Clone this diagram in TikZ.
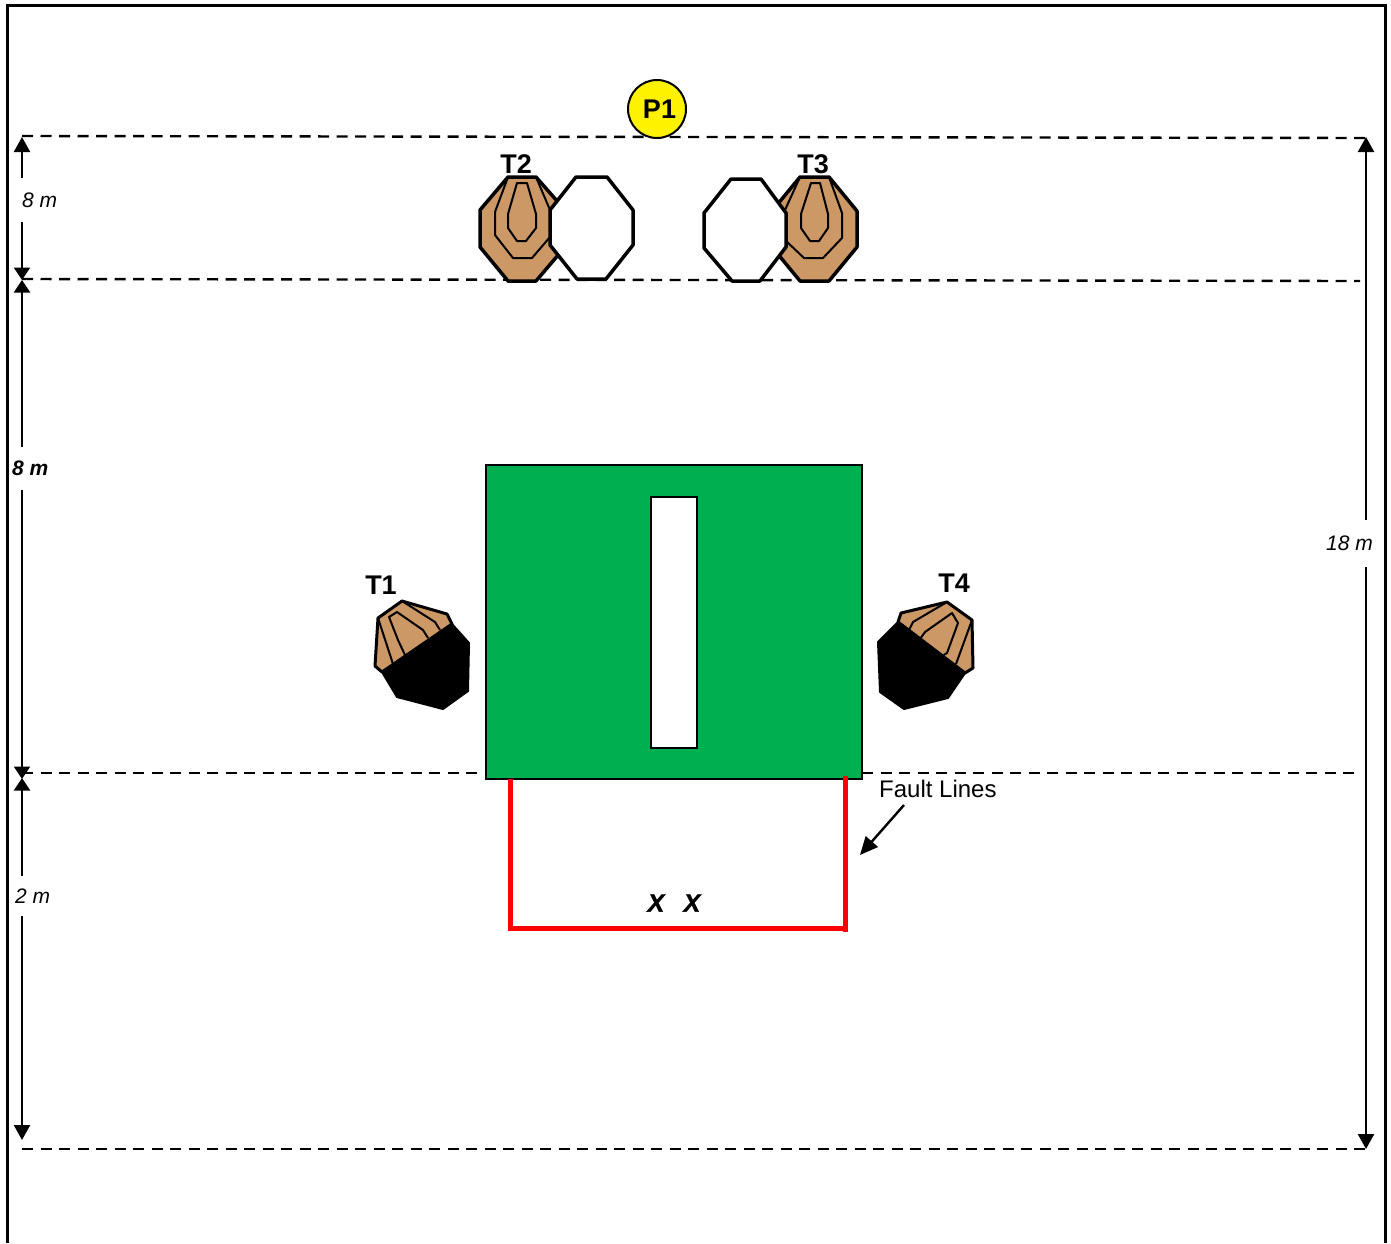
\documentclass[tikz,border=0pt]{standalone}
\usepackage{fontspec}
\setmainfont{Liberation Sans}
\usetikzlibrary{arrows.meta}
\definecolor{tan1}{HTML}{CC9966}
\definecolor{grn}{HTML}{00B050}
\definecolor{redl}{HTML}{FF0000}
\tikzset{
  guide/.style={line width=2.4pt,dash pattern=on 11pt off 7.5pt},
  dim/.style={line width=2.3pt,-{Triangle[length=15pt,width=16pt]}},
  dimj/.style={line width=2.3pt,-{Triangle[length=12.5pt,width=16pt]}},
  tgt/.style={draw=black,line width=3.5pt,line join=round},
  thin1/.style={draw=black,line width=2pt,line join=round},
  lbl/.style={font=\fontsize{27}{30}\selectfont\bfseries,inner sep=0pt},
  dimlbl/.style={font=\fontsize{21}{24}\selectfont\itshape,inner sep=0pt,anchor=west},
  marklbl/.style={font=\fontsize{25}{28}\selectfont\bfseries\itshape\addfontfeature{FakeBold=1.2},inner sep=0pt},
  fault/.style={line width=5pt,draw=redl}
}
\begin{document}
\begin{tikzpicture}[x=1pt,y=-1pt]
\useasboundingbox (0,0) rectangle (1391,1243);
\fill[white] (0,0) rectangle (1391,1243);
% frame
\draw[line width=3pt] (7,1243) -- (7,5) -- (1385,5) -- (1385,1243);
% guides
\coordinate (g1l) at (22,136); \coordinate (g1r) at (1366,138);
\coordinate (g2l) at (22,279); \coordinate (g2r) at (1360,281);
\coordinate (g3l) at (22,773); \coordinate (g3m) at (486,773);
\coordinate (g3n) at (862,773); \coordinate (g3r) at (1360,773);
\coordinate (g4l) at (22,1149); \coordinate (g4r) at (1366,1149);
\draw[guide] (g1l) -- (g1r);
\draw[guide] (g2l) -- (g2r);
\draw[guide] (g3l) -- (g3m);
\draw[guide] (g3n) -- (g3r);
\draw[guide] (g4l) -- (g4r);
% P1
\node[circle,draw=black,line width=2pt,fill=yellow,minimum size=58pt,inner sep=0pt,font=\fontsize{27}{30}\selectfont\bfseries] (p1) at (657,109) {\hspace*{5pt}P1};
% T2 target
\filldraw[tgt,fill=tan1] (508,177)--(536,177)--(565,210)--(565,247)--(536,281)--(508,281)--(480,247)--(480,210)--cycle;
\draw[thin1] (508,177)--(495,212)--(495,235)--(513,258)--(532,258)--(550,237);
\draw[thin1] (536,177)--(550,210);
\draw[thin1] (517,183)--(527,183)--(536,214)--(536,228)--(526,241)--(517,241)--(508,228)--(508,214)--cycle;
\filldraw[tgt,fill=white] (576,177)--(607,177)--(633,210)--(633,245)--(606,279)--(577,279)--(550,245)--(550,210)--cycle;
\node[lbl] (t2) at (516,164) {T2};
% T3 target
\filldraw[tgt,fill=tan1] (800,177)--(829,177)--(857,211)--(857,247)--(829,281)--(800,281)--(772,247)--(772,211)--cycle;
\draw[thin1] (800,177)--(785,210)--(785,240)--(804,258)--(823,258)--(842,238)--(842,213)--(829,177);
\draw[thin1] (811,183)--(820,183)--(828,214)--(828,228)--(819,241)--(810,241)--(801,228)--(801,214)--cycle;
\filldraw[tgt,fill=white] (731,179)--(761,179)--(786,213)--(786,247)--(760,281)--(732,281)--(704,248)--(704,213)--cycle;
\node[lbl] (t3) at (813,164) {T3};
% green wall
\node[draw=black,line width=2pt,fill=grn,minimum width=376pt,minimum height=314pt,inner sep=0pt] (wall) at (674,622) {};
\node[draw=black,line width=1.5pt,fill=white,minimum width=46pt,minimum height=251pt,inner sep=0pt] (gap) at (674,622.5) {};
% T1
\filldraw[tgt,line width=3pt,fill=tan1] (402,601)--(447,614)--(452,624)--(382,672)--(375,666)--(378,618)--cycle;
\draw[thin1] (378,618)--(393,664);
\draw[thin1] (402,601)--(435,622)--(440,630);
\draw[thin1] (405,655)--(398,640)--(389,617)--(397,612)--(423,630)--(428,638);
\filldraw[thin1,fill=black] (452,624)--(469,643)--(468,691)--(443,709)--(397,697)--(382,672)--cycle;
\node[lbl] (t1) at (381,585) {T1};
% T4
\filldraw[tgt,line width=3pt,fill=tan1] (947,602)--(972,620)--(973,668)--(965,673)--(898,622)--(901,613)--cycle;
\draw[thin1] (947,602)--(913,622)--(909,630);
\draw[thin1] (920,639)--(925,632)--(952,613)--(958,623)--(947,653)--(942,656);
\draw[thin1] (972,620)--(956,664);
\filldraw[thin1,fill=black] (898,622)--(965,673)--(948,698)--(904,709)--(880,692)--(878,642)--cycle;
\node[lbl] (t4) at (954,583) {T4};
% fault lines
\coordinate (f1) at (510.5,779); \coordinate (f2) at (510.5,928);
\coordinate (f3) at (845.5,928); \coordinate (f4) at (845.5,776); \coordinate (f5) at (845.5,932);
\draw[fault] (f1) -- (f2) -- (f3);
\draw[fault] (f4) -- (f5);
\node[marklbl] (x1) at (656,903) {X};
\node[marklbl] (x2) at (692,903) {X};
\node[font=\fontsize{24}{28}\selectfont,inner sep=0pt,anchor=west] (fl) at (879,789) {Fault Lines};
\coordinate (ftail) at (904,805); \coordinate (fhead) at (860,855);
\draw[line width=2.4pt,-{Triangle[length=18pt,width=16pt]}] (ftail) -- (fhead);
% dimension labels
\node[dimlbl,minimum height=44pt] (d8a) at (22,200) {8 m};
\node[dimlbl,minimum height=43pt,font=\fontsize{21}{24}\selectfont\bfseries\itshape] (d8b) at (12,468.5) {8 m};
\node[dimlbl,minimum height=40pt] (d2) at (15,896) {2 m};
\node[dimlbl,minimum height=47pt] (d18) at (1326,543.5) {18 m};
% dimension arrows
\coordinate (a1) at (22,137); \coordinate (a2) at (22,280);
\coordinate (b1) at (22,280); \coordinate (b2) at (22,779);
\coordinate (c1) at (22,778); \coordinate (c2) at (22,1140);
\coordinate (e1) at (1366,137); \coordinate (e2) at (1366,1149);
\draw[dim] (a1|-d8a.north) -- (a1);
\draw[dimj] (a1|-d8a.south) -- (a2);
\draw[dimj] (b1|-d8b.north) -- (b1);
\draw[dimj] (b1|-d8b.south) -- (b2);
\draw[dimj] (c1|-d2.north) -- (c1);
\draw[dim] (c1|-d2.south) -- (c2);
\draw[dim] (e1|-d18.north) -- (e1);
\draw[dim] (e1|-d18.south) -- (e2);
\end{tikzpicture}
\end{document}
